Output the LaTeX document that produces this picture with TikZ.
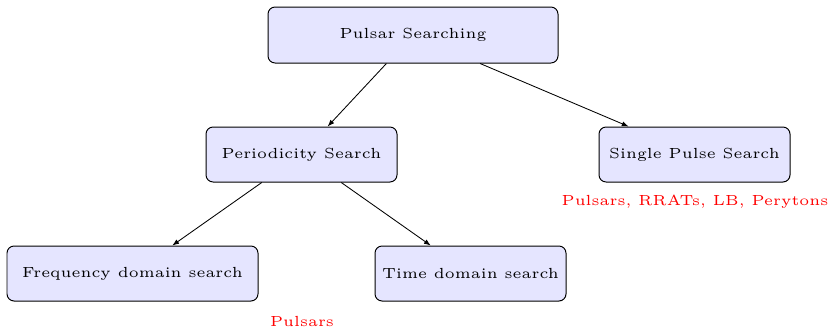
\documentclass[tikz,border=0pt]{standalone}
\usetikzlibrary{arrows.meta}
\tikzset{
  box/.style={draw, rounded corners=2.5pt, fill=blue!10, font=\fontsize{5.15}{6}\selectfont,
    minimum width=191*0.352pt, minimum height=55*0.352pt, inner sep=2pt,
    line width=0.35pt},
  note/.style={text=red, font=\fontsize{5.15}{6}\selectfont, inner sep=0pt},
  link/.style={-{Latex[length=2.4pt,width=1.8pt]}, line width=0.3pt}
}
\begin{document}
\begin{tikzpicture}[x=0.352pt,y=-0.352pt]
\useasboundingbox (0,0) rectangle (832,329);
% tree of search methods
\node[box, minimum width=290*0.352pt, minimum height=56*0.352pt] (top) at (413,35) {Pulsar Searching};
\node[box] (period) at (301.5,154.5) {Periodicity Search};
\node[box] (single) at (694.5,154.5) {Single Pulse Search};
\node[box, minimum width=251*0.352pt] (freq) at (132.5,273.5) {Frequency domain search};
\node[box] (time) at (470.5,273.5) {Time domain search};
% targets found by each method
\node[note] (singlenote) at (695,202) {Pulsars, RRATs, LB, Perytons};
\node[note] (freqnote) at (302,321) {Pulsars};
% connectors
\draw[link] (top) -- (period);
\draw[link] (top) -- (single);
\draw[link] (period) -- (freq);
\draw[link] (period) -- (time);
\end{tikzpicture}
\end{document}
